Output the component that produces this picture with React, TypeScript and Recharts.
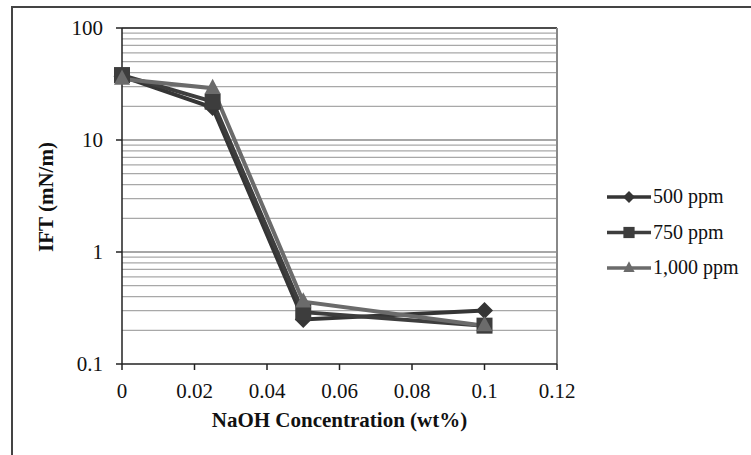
import React from 'react';
import { LineChart, Line, XAxis, YAxis, ReferenceLine } from 'recharts';

const concentrations = [0, 0.025, 0.05, 0.1];
const ift500 = [37, 19.5, 0.25, 0.3];
const ift750 = [38, 22, 0.29, 0.22];
const ift1000 = [35, 29, 0.36, 0.22];
const seriesNames = ['500 ppm', '750 ppm', '1,000 ppm'];
const xTicks = [0, 0.02, 0.04, 0.06, 0.08, 0.1, 0.12];
const yTicks = [0.1, 1, 10, 100];
const minorGrid = [0.2, 0.3, 0.4, 0.5, 0.6, 0.7, 0.8, 0.9, 2, 3, 4, 5, 6, 7, 8, 9, 20, 30, 40, 50, 60, 70, 80, 90];
const majorGrid = [1, 10];

const data = concentrations.map((c, i) => ({ x: c, a: ift500[i], b: ift750[i], c: ift1000[i] }));

const FONT = '"Liberation Serif", "Times New Roman", serif';
const colors = ['#353535', '#3d3d3d', '#6b6b6b'];

const Diamond = (p: any) => {
  const { cx, cy, fill, s = 1 } = p;
  if (cx == null || cy == null) return null;
  const r = 8.5 * s;
  return <path d={`M${cx},${cy - r}L${cx + r},${cy}L${cx},${cy + r}L${cx - r},${cy}Z`} fill={fill} />;
};
const Square = (p: any) => {
  const { cx, cy, fill, s = 1 } = p;
  if (cx == null || cy == null) return null;
  const r = 8 * s;
  return <rect x={cx - r} y={cy - r} width={2 * r} height={2 * r} fill={fill} />;
};
const Triangle = (p: any) => {
  const { cx, cy, fill, s = 1 } = p;
  if (cx == null || cy == null) return null;
  const r = 9.5 * s;
  return <path d={`M${cx},${cy - r}L${cx + r * 0.85},${cy + r * 0.6}L${cx - r * 0.85},${cy + r * 0.6}Z`} fill={fill} />;
};
const markers = [Diamond, Square, Triangle];

export default function App() {
  return (
    <div style={{ position: 'absolute', left: 0, top: 0, width: 751, height: 455, background: '#fff' }}>
      <LineChart
        width={751}
        height={455}
        data={data}
        margin={{ top: 28, right: 194, bottom: 61, left: 62 }}
      >
        {minorGrid.map((v) => (
          <ReferenceLine key={'m' + v} y={v} stroke="#a8a8a8" strokeWidth={1.2} ifOverflow="hidden" />
        ))}
        {majorGrid.map((v) => (
          <ReferenceLine key={'M' + v} y={v} stroke="#8a8a8a" strokeWidth={1.5} ifOverflow="hidden" />
        ))}
        <ReferenceLine y={100} stroke="#111" strokeWidth={1.5} />
        <ReferenceLine x={0.12} stroke="#888" strokeWidth={2} />
        <XAxis
          dataKey="x"
          type="number"
          domain={[0, 0.12]}
          ticks={xTicks}
          height={30}
          axisLine={{ stroke: '#222', strokeWidth: 1.5 }}
          tickLine={{ stroke: '#222', strokeWidth: 1.5 }}
          tickSize={6}
          tickMargin={13}
          tick={{ fill: '#111', fontSize: 21, fontFamily: FONT }}
          tickFormatter={(v: number) => String(Number(v.toFixed(2)))}
          interval={0}
        />
        <YAxis
          type="number"
          scale="log"
          domain={[0.1, 100]}
          ticks={yTicks}
          allowDataOverflow
          width={60}
          axisLine={{ stroke: '#222', strokeWidth: 1.5 }}
          tickLine={{ stroke: '#222', strokeWidth: 1.5 }}
          tickSize={6}
          tickMargin={13}
          tick={{ fill: '#111', fontSize: 21, fontFamily: FONT }}
          tickFormatter={(v: number) => String(v)}
          interval={0}
        />
        {(['a', 'b', 'c'] as const).map((k, i) => {
          const M = markers[i];
          return (
            <Line
              key={k}
              dataKey={k}
              stroke={colors[i]}
              strokeWidth={4}
              isAnimationActive={false}
              dot={(p: any) => <M key={k + p.index} cx={p.cx} cy={p.cy} fill={colors[i]} />}
              activeDot={false}
            />
          );
        })}
      </LineChart>
      <svg style={{ position: 'absolute', left: 0, top: 0 }} width={751} height={455}>
        <path d="M12,460 L12,7 L760,7" fill="none" stroke="#444" strokeWidth={2} />
        <text
          x={339.5}
          y={427}
          textAnchor="middle"
          fontFamily={FONT}
          fontWeight="bold"
          fontSize={21}
          fill="#111"
        >
          NaOH Concentration (wt%)
        </text>
        <text
          transform="translate(53,197) rotate(-90)"
          textAnchor="middle"
          fontFamily={FONT}
          fontWeight="bold"
          fontSize={21}
          fill="#111"
        >
          IFT (mN/m)
        </text>
        {seriesNames.map((n, i) => {
          const y = 197 + i * 35.5;
          const M = markers[i];
          return (
            <g key={n}>
              <line x1={607} x2={651} y1={y} y2={y} stroke={colors[i]} strokeWidth={3.5} />
              <M cx={629} cy={y} fill={colors[i]} s={0.7} />
              <text x={653} y={y + 6} fontFamily={FONT} fontSize={20} fill="#111">
                {n}
              </text>
            </g>
          );
        })}
      </svg>
    </div>
  );
}
